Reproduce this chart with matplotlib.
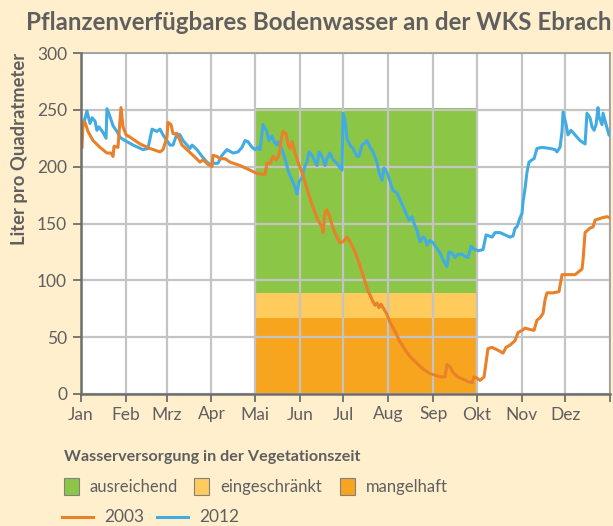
import matplotlib
matplotlib.use("Agg")
import matplotlib.pyplot as plt
from matplotlib.patches import Rectangle
from matplotlib.lines import Line2D

# ---------------- data ----------------
month_labels = ["Jan", "Feb", "Mrz", "Apr", "Mai", "Jun", "Jul", "Aug", "Sep", "Okt", "Nov", "Dez"]
month_starts = [0, 31, 59, 90, 120, 151, 181, 212, 243, 273, 304, 334, 365]

# Vegetation period bands (day of year, litres per m²)
veg_start, veg_end = 120, 273
band_mangelhaft = 67
band_eingeschraenkt = 89
band_ausreichend = 252

day_2012 = [1.4, 4.1, 6.2, 7.6, 9.7, 11.0, 12.4, 15.2, 17.3, 17.9, 20.0, 22.1, 24.8, 26.9, 29.0,
            35.9, 42.8, 46.2, 49.0, 52.4, 54.5, 56.6, 59.3, 61.4, 63.5, 66.2, 68.3, 70.4, 73.1,
            75.2, 76.6, 80.0, 83.5, 86.9, 89.0, 91.1, 94.5, 97.3, 100.7, 104.9, 108.3, 111.1,
            113.2, 115.2, 118.0, 120.1, 122.1, 123.5, 125.6, 128.3, 129.7, 131.8, 133.2, 135.2,
            135.9, 138.7, 140.8, 142.8, 145.6, 147.7, 149.0, 150.4, 152.5, 154.6, 155.9, 157.3,
            159.4, 160.8, 162.8, 164.2, 166.3, 168.4, 169.7, 171.8, 173.9, 176.6, 178.7, 180.1,
            180.8, 182.2, 183.5, 185.6, 187.7, 190.4, 191.8, 193.9, 196.0, 197.3, 199.4, 201.5,
            204.2, 205.6, 207.7, 209.1, 211.1, 213.2, 215.3, 218.0, 220.1, 222.2, 224.9, 226.3,
            228.4, 229.8, 231.8, 233.9, 236.0, 237.4, 238.7, 240.8, 242.9, 245.6, 247.7, 249.8,
            252.5, 253.9, 256.0, 258.1, 260.1, 262.9, 265.0, 267.0, 269.1, 270.5, 273.9, 277.4,
            279.5, 281.5, 283.6, 285.7, 289.1, 292.6, 296.0, 298.1, 299.5, 300.8, 302.9, 304.3,
            305.0, 306.4, 307.7, 309.1, 311.2, 312.6, 314.6, 318.1, 323.6, 327.1, 328.4, 330.5,
            331.9, 332.6, 334.7, 336.0, 338.1, 339.5, 342.2, 344.3, 347.8, 349.1, 351.2, 352.6,
            354.0, 355.4, 356.7, 357.4, 359.5, 360.2, 362.3, 364.3]
val_2012 = [236, 249, 238, 243, 240, 232, 235, 230, 225, 251, 244, 236, 231, 226, 224,
            219, 215, 216, 233, 231, 233, 228, 223, 219, 219, 229, 228, 223, 219,
            216, 219, 215, 209, 204, 202, 203, 203, 210, 215, 212, 213, 217,
            223, 222, 217, 215, 217, 215, 237, 231, 223, 227, 222, 219,
            222, 215, 207, 197, 188, 182, 176, 187, 190, 201, 204, 213,
            210, 206, 201, 213, 209, 201, 207, 212, 206, 203, 199, 197,
            247, 241, 225, 219, 216, 209, 209, 219, 221, 223, 217, 213,
            204, 195, 188, 199, 195, 187, 179, 177, 171, 165, 157, 153,
            156, 150, 144, 134, 138, 137, 131, 135, 133, 128, 124, 118,
            112, 125, 124, 120, 123, 123, 121, 120, 130, 128, 126, 127,
            140, 139, 138, 142, 142, 140, 138, 139, 146, 147, 155, 159,
            169, 181, 195, 204, 206, 207, 216, 217, 216, 215, 213, 217,
            231, 248, 237, 228, 232, 230, 226, 223, 220, 247, 243, 235,
            232, 237, 252, 244, 237, 247, 237, 228]

day_2003 = [0.7, 1.4, 2.8, 4.8, 8.3, 13.1, 17.9, 20.7, 22.1, 22.8, 25.5, 27.6, 29.0, 31.1, 33.8,
            40.7, 47.6, 54.5, 56.6, 59.3, 60.0, 62.1, 63.5, 66.2, 69.7, 73.1, 77.3, 82.1, 84.2,
            87.6, 90.4, 91.1, 93.8, 95.9, 99.4, 102.8, 109.7, 116.6, 121.4, 127.0, 128.3, 130.4,
            132.5, 134.6, 136.6, 138.7, 139.4, 141.5, 142.8, 144.2, 145.6, 147.7, 149.7, 152.5,
            154.6, 157.3, 160.1, 163.5, 166.3, 167.0, 168.4, 169.7, 171.8, 173.9, 176.6, 178.7,
            180.8, 183.5, 185.6, 189.1, 191.1, 193.9, 196.0, 198.0, 200.8, 202.9, 204.2, 205.6,
            207.0, 208.4, 211.1, 213.2, 216.7, 220.1, 223.6, 227.0, 231.8, 236.0, 240.8, 245.6,
            249.1, 251.2, 252.5, 254.6, 256.7, 260.1, 263.6, 267.0, 269.8, 271.2, 273.2, 275.3,
            278.1, 280.8, 283.6, 287.0, 291.2, 293.2, 296.0, 299.5, 301.5, 304.3, 306.4, 309.1,
            312.6, 314.6, 316.7, 318.8, 320.2, 321.5, 325.7, 329.8, 331.9, 340.9, 342.9, 345.7,
            346.4, 347.8, 351.2, 353.3, 354.7, 359.5, 362.9, 365.0]
val_2003 = [217, 239, 239, 231, 223, 217, 212, 212, 209, 218, 217, 252, 235, 228, 226,
            220, 216, 213, 215, 226, 239, 237, 229, 229, 219, 215, 210, 204, 206,
            202, 200, 210, 209, 207, 207, 204, 201, 197, 194, 193, 203, 203,
            209, 206, 210, 228, 231, 229, 220, 216, 222, 212, 204, 195,
            186, 175, 164, 153, 147, 142, 160, 162, 155, 146, 138, 133,
            134, 138, 134, 125, 118, 107, 99, 91, 83, 78, 80, 76,
            79, 76, 70, 63, 55, 46, 39, 33, 27, 22, 18, 16,
            15, 15, 26, 24, 19, 15, 13, 11, 10, 15, 14, 12,
            15, 40, 41, 39, 36, 41, 43, 47, 54, 56, 58, 57,
            56, 65, 67, 71, 83, 89, 89, 90, 105, 105, 107, 110,
            118, 142, 146, 147, 153, 155, 156, 155]

y_ticks = [0, 50, 100, 150, 200, 250, 300]

# ---------------- style ----------------
BG = "#FFEFCD"
TXT = "#5F5F5F"
C_GREEN = "#8CC646"
C_YELLOW = "#FECB5C"
C_ORANGE = "#F7A51F"
C_2003 = "#E9802A"
C_2012 = "#42ACE2"
GRID = "#C4C4C4"
SPINE = "#6E6E6E"
FONT = "Lato"

plt.rcParams["font.family"] = [FONT, "DejaVu Sans"]

fig = plt.figure(figsize=(6.13, 5.26), dpi=100, facecolor=BG)
ax = fig.add_axes([81 / 613, 1 - 394 / 526, 529 / 613, 341 / 526])
ax.set_facecolor("white")

# vegetation bands
ax.fill_between([veg_start, veg_end], 0, band_mangelhaft, color=C_ORANGE, lw=0, zorder=1)
ax.fill_between([veg_start, veg_end], band_mangelhaft, band_eingeschraenkt, color=C_YELLOW, lw=0, zorder=1)
ax.fill_between([veg_start, veg_end], band_eingeschraenkt, band_ausreichend, color=C_GREEN, lw=0, zorder=1)

# grid
for d in month_starts:
    ax.axvline(d, color=GRID, lw=1.6, zorder=2)
for v in y_ticks:
    ax.axhline(v, color=GRID, lw=1.6, zorder=2)

ax.plot(day_2003, val_2003, color=C_2003, lw=2.2, zorder=4, solid_joinstyle="round")
ax.plot(day_2012, val_2012, color=C_2012, lw=2.2, zorder=3, solid_joinstyle="round")

ax.set_xlim(0, 365)
ax.set_ylim(0, 300)
ax.set_xticks(month_starts[:-1] + [365])
ax.set_xticklabels(month_labels + [""])
ax.set_yticks(y_ticks)
ax.tick_params(axis="both", colors=SPINE, labelcolor=TXT, labelsize=12.5, length=6, width=1.3, direction="out")
ax.tick_params(axis="x", pad=3)
ax.tick_params(axis="y", pad=4)

for side in ["left", "bottom"]:
    ax.spines[side].set_color(SPINE)
    ax.spines[side].set_linewidth(1.8)
    ax.spines[side].set_zorder(5)
for side in ["top", "right"]:
    ax.spines[side].set_color("#9A9A9A")
    ax.spines[side].set_linewidth(1.2)

fig.text(20 / 613, 1 - 53 / 526, "Liter pro Quadratmeter", rotation=90,
         ha="center", va="top", fontsize=13.2, fontweight="bold", color=TXT)

fig.text(0.997, 1 - 22 / 526, "Pflanzenverfügbares Bodenwasser an der WKS Ebrach",
         ha="right", va="center", fontsize=17.4, fontweight="bold", color=TXT)

# legend
fig.text(64 / 613, 1 - 457 / 526, "Wasserversorgung in der Vegetationszeit",
         ha="left", va="center", fontsize=11.6, fontweight="bold", color=TXT)
items = [(C_GREEN, "ausreichend", 64), (C_YELLOW, "eingeschränkt", 194), (C_ORANGE, "mangelhaft", 340)]
for col, lab, xp in items:
    fig.patches.append(Rectangle((xp / 613, 1 - 495 / 526), 15 / 613, 17 / 526,
                                 transform=fig.transFigure, facecolor=col,
                                 edgecolor="#808080", lw=0.8))
    fig.text((xp + 26) / 613, 1 - 487 / 526, lab, ha="left", va="center", fontsize=12, color=TXT)

lines = [(C_2003, "2003", 62), (C_2012, "2012", 157)]
for col, lab, xp in lines:
    fig.lines.append(Line2D([xp / 613, (xp + 31) / 613], [1 - 517 / 526] * 2,
                            transform=fig.transFigure, color=col, lw=2.2))
    fig.text((xp + 42) / 613, 1 - 517 / 526, lab, ha="left", va="center", fontsize=12.5, color=TXT)

fig.savefig("out.png", dpi=100, facecolor=BG)
